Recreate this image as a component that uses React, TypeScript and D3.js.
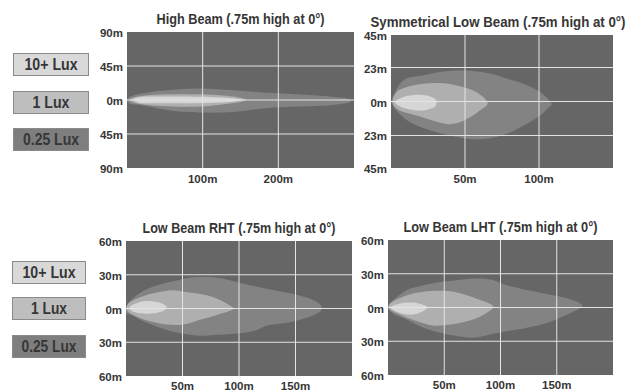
import React from "react";
import * as d3 from "d3";

type Pt = [number, number];

// ---- Data (metres) ----
const legendLabels = ["10+ Lux", "1 Lux", "0.25 Lux"];

const highTitle = "High Beam (.75m high at 0°)";
const highXTicks = [100, 200];
const highYTicks = [90, 45, 0, -45, -90];
const high025: Pt[] = [
  [1, 2], [8, 6], [34, 11], [65, 14], [100, 15.3], [140, 13], [184, 9.6], [228, 7.4], [272, 4.4], [294, 1],
  [296, -2], [272, -6.5], [228, -8.7], [184, -10.9], [140, -16], [100, -16.6], [65, -15], [51, -13], [20, -7], [4, -5], [0.5, -1],
];
const high1: Pt[] = [
  [4, 1], [10, 3.5], [30, 6.5], [60, 7.5], [96, 7.6], [131, 5.7], [150, 3], [158, 0],
  [150, -2.5], [131, -5.2], [96, -8.7], [60, -8.5], [30, -7], [10, -4], [4, -1],
];
const high10: Pt[] = [
  [8, 0.5], [15, 3.5], [40, 4.5], [100, 4.2], [140, 2.2], [152, 0],
  [140, -2.2], [100, -4], [40, -4.3], [15, -3.5],
];

const symTitle = "Symmetrical Low Beam (.75m high at 0°)";
const symXTicks = [50, 100];
const symYTicks = [45, 23, 0, -23, -45];
const sym025: Pt[] = [
  [0.5, 0.5], [3, 7], [6, 12], [10.6, 15.5], [21.8, 17.7], [33, 20], [44.4, 21], [55.6, 20.7], [66.9, 18.9], [78, 15.5], [89.4, 12], [100.7, 6.4], [107, 0.7], [108.6, -2],
  [106, -4.5], [100.7, -9.5], [89.4, -16.4], [78, -22], [66.9, -24.8], [55.6, -25.5], [44.4, -24], [33, -21.5], [21.8, -18], [12, -13.5], [6, -8.4], [2, -4],
];
const sym1: Pt[] = [
  [1, 0], [3.8, 6.4], [10.6, 9.8], [21.8, 12], [33, 12.5], [44.4, 10.9], [55.6, 7.5], [62.4, 3], [65.3, -0.8],
  [64.6, -2.7], [60, -6.1], [53.4, -10.7], [44.4, -14.8], [37.6, -15.2], [28.6, -13], [17.3, -9.5], [6, -6.1], [2, -3],
];
const sym10: Pt[] = [
  [2.7, -0.5], [8.3, 3], [17.3, 4.5], [24, 4.1], [29.7, 1.8], [30.9, -0.5], [29.7, -3.4], [24, -5.7], [17.3, -6.1], [8.3, -4.3],
];

const rhtTitle = "Low Beam RHT (.75m high at 0°)";
const lhtTitle = "Low Beam LHT (.75m high at 0°)";
const lowXTicks = [50, 100, 150];
const lowYTicks = [60, 30, 0, -30, -60];
const rht025: Pt[] = [
  [0.3, 2], [3, 6], [15.4, 15.7], [30.2, 21.4], [45, 24.9], [59.8, 27.7], [77.5, 27.7], [95.3, 24.3], [113, 20], [133.7, 15.7], [154.4, 11.4], [169.2, 5.7], [173.7, 0],
  [169, -4.5], [154, -10], [140, -13], [125, -15], [113, -20], [95.3, -22.5], [77.5, -23.5], [65, -24.3], [45, -21.4], [30.2, -17.1], [15.4, -11.4], [5, -6], [0.6, -4.3],
];
const rht1: Pt[] = [
  [0.5, 1], [2, 4.3], [12.4, 10], [27.2, 14.3], [42, 16.3], [53.8, 14.5], [65.7, 12.9], [77.5, 10], [89.3, 4.3], [95.3, 0],
  [92.3, -2], [80.5, -5.7], [65.7, -10], [50.9, -14.3], [36.1, -14.3], [21.3, -11.4], [6.5, -5.7], [1, -2],
];
const rht10: Pt[] = [
  [3, 0.9], [9.5, 4.9], [18.3, 6.6], [27.2, 5.7], [34.6, 2.9], [36.1, 0.9], [33.1, -2], [24.3, -4.3], [12.4, -4.3], [5, -2],
];
const lht025: Pt[] = [
  [0.5, 1], [2, 3.8], [16.9, 15.5], [31.7, 19.8], [46.4, 22.7], [61.2, 24.2], [76, 25.7], [90.8, 24.8], [105.6, 19.8], [123.4, 15.5], [141.1, 12], [158.9, 8.2], [170.7, 3.8], [173, 1.5],
  [170.7, -0.6], [158.9, -6.4], [141.1, -13.7], [123.4, -18], [105.6, -21], [90.8, -23.9], [76, -26.8], [61.2, -25.4], [46.4, -22.4], [31.7, -18], [16.9, -10.8], [2, -3.5],
];
const lht1: Pt[] = [
  [0.5, 1], [2, 3.8], [16.9, 11], [31.7, 14], [46.4, 14.9], [58.3, 14], [70.1, 11], [82, 6.7], [92.3, 2.3], [93.8, 0.3],
  [90.8, -2.6], [82, -7.9], [70.1, -12.2], [55.3, -15.2], [40.5, -16], [25.7, -12.2], [11, -6.4], [2, -2],
];
const lht10: Pt[] = [
  [2, 0.3], [9.5, 3.2], [19.8, 4.4], [28.7, 3.2], [35.2, 0.3], [28.7, -4.4], [19.8, -6.4], [9.5, -4.4],
];

// ---- Styles ----
const FONT = "'Liberation Sans', Arial, sans-serif";
const TEXT = "#363636";
const BG = "#666666";
const C025 = "#838383";
const C1 = "#afafaf";
const C10 = "#d6d6d6";
const GRID = "#e4e4e4";
const LEG_FILLS = ["#d9d9d9", "#bebebe", "#7e7e7e"];

interface PanelProps {
  id: string;
  title: string;
  titleW: number;
  titleX?: number;
  x0: number; x1: number; y0: number; y1: number;
  xMax: number; yMax: number;
  xTicks: number[]; yTicks: number[];
  regions: Pt[][];
  xLabelDy: number;
}

const Panel = ({ id, title, titleW, titleX, x0, x1, y0, y1, xMax, yMax, xTicks, yTicks, regions, xLabelDy }: PanelProps) => {
  const x = d3.scaleLinear().domain([0, xMax]).range([x0, x1]);
  const y = d3.scaleLinear().domain([-yMax, yMax]).range([y1, y0]);
  const line = d3.line<Pt>().x((d) => x(d[0])).y((d) => y(d[1])).curve(d3.curveCatmullRomClosed.alpha(0.5));
  const fills = [C025, C1, C10];
  const tx = titleX ?? (x0 + x1) / 2;
  return (
    <g>
      <defs>
        <clipPath id={`clip-${id}`}>
          <rect x={x0} y={y0} width={x1 - x0} height={y1 - y0} />
        </clipPath>
      </defs>
      <text x={tx - titleW / 2} y={y0 - 8.5} textLength={titleW} lengthAdjust="spacingAndGlyphs"
        fontFamily={FONT} fontWeight="bold" fontSize={15.5} fill={TEXT}>
        {title}
      </text>
      <rect x={x0} y={y0} width={x1 - x0} height={y1 - y0} fill={BG} />
      <g clipPath={`url(#clip-${id})`}>
        {regions.map((r, i) => (
          <path key={i} d={line(r) || ""} fill={fills[i]} />
        ))}
      </g>
      {xTicks.map((t) => (
        <line key={`vx${t}`} x1={x(t)} x2={x(t)} y1={y0} y2={y1} stroke={GRID} strokeWidth={1} />
      ))}
      {yTicks.filter((t) => Math.abs(t) !== yMax).map((t) => (
        <line key={`hy${t}`} x1={x0} x2={x1} y1={y(t)} y2={y(t)} stroke={GRID} strokeWidth={1} />
      ))}
      {yTicks.map((t) => (
        <text key={`ly${t}`} x={x0 - 4} y={y(t) + 5} textAnchor="end" fontFamily={FONT} fontWeight="bold" fontSize={11.5} fill={TEXT}>
          {`${Math.abs(t)}m`}
        </text>
      ))}
      {xTicks.map((t) => (
        <text key={`lx${t}`} x={x(t)} y={y1 + xLabelDy} textAnchor="middle" fontFamily={FONT} fontWeight="bold" fontSize={11.5} fill={TEXT}>
          {`${t}m`}
        </text>
      ))}
    </g>
  );
};

const Legend = ({ x0, w, ys, h, widths }: { x0: number; w: number; ys: number[]; h: number; widths: number[] }) => (
  <g>
    {legendLabels.map((l, i) => (
      <g key={l}>
        <rect x={x0 + 0.5} y={ys[i] + 0.5} width={w} height={h} fill={LEG_FILLS[i]} stroke="#8a8a8a" strokeWidth={1} />
        <text x={x0 + w / 2 + 0.5 - widths[i] / 2} y={ys[i] + h / 2 + 6} textLength={widths[i]} lengthAdjust="spacingAndGlyphs"
          fontFamily={FONT} fontWeight="bold" fontSize={16} fill={TEXT}>
          {l}
        </text>
      </g>
    ))}
  </g>
);

export default function App() {
  return (
    <svg width={630} height={390} style={{ position: "absolute", left: 0, top: 0, background: "#fff" }}>
      <rect x={0} y={0} width={630} height={390} fill="#fff" />
      <Legend x0={13} w={75} ys={[53, 91, 128]} h={22} widths={[53, 37, 56]} />
      <Legend x0={12} w={73} ys={[261, 297, 335]} h={22} widths={[53, 36, 55]} />
      <Panel id="hb" title={highTitle} titleW={168} x0={127} x1={354} y0={32} y1={168} xMax={300} yMax={90}
        xTicks={highXTicks} yTicks={highYTicks} regions={[high025, high1, high10]} xLabelDy={14.5} />
      <Panel id="sl" title={symTitle} titleW={255} titleX={498} x0={391} x1={613} y0={35} y1={168} xMax={150} yMax={45}
        xTicks={symXTicks} yTicks={symYTicks} regions={[sym025, sym1, sym10]} xLabelDy={14.5} />
      <Panel id="rht" title={rhtTitle} titleW={193} x0={126} x1={352} y0={241} y1={376} xMax={200} yMax={60}
        xTicks={lowXTicks} yTicks={lowYTicks} regions={[rht025, rht1, rht10]} xLabelDy={13.5} />
      <Panel id="lht" title={lhtTitle} titleW={194} x0={388} x1={613} y0={240} y1={375} xMax={200} yMax={60}
        xTicks={lowXTicks} yTicks={lowYTicks} regions={[lht025, lht1, lht10]} xLabelDy={13.5} />
    </svg>
  );
}
